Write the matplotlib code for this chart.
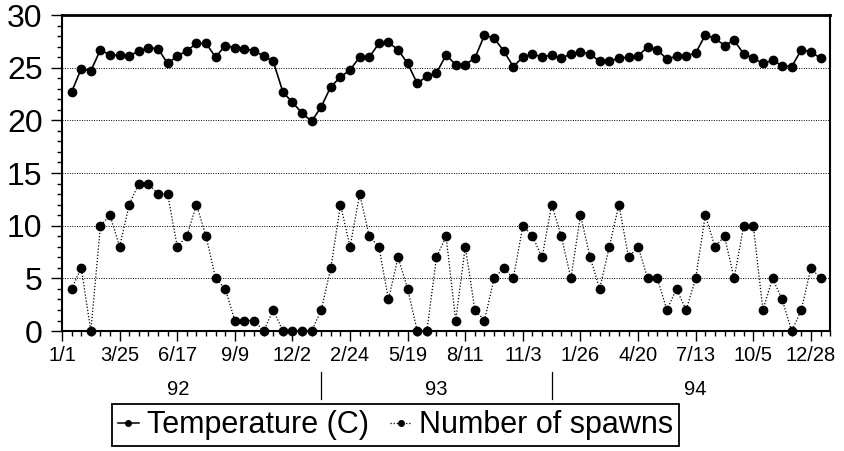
import matplotlib
matplotlib.use("Agg")
import matplotlib.pyplot as plt
from matplotlib.lines import Line2D
import matplotlib.transforms as mtransforms
import numpy as np

plt.rcParams['font.family'] = ['Liberation Sans', 'DejaVu Sans']

# biweekly samples, 1 Jan 1992 -> end of 1994
date_labels = ['1/1', '3/25', '6/17', '9/9', '12/2', '2/24', '5/19',
               '8/11', '11/3', '1/26', '4/20', '7/13', '10/5', '12/28']
year_labels = ['92', '93', '94']

temperature = [22.7, 24.9, 24.7, 26.7, 26.2, 26.2, 26.1, 26.6, 26.9, 26.8,
               25.4, 26.1, 26.6, 27.3, 27.3, 26.0, 27.1, 26.9, 26.8, 26.6,
               26.1, 25.6, 22.7, 21.7, 20.7, 19.9, 21.3, 23.2, 24.1, 24.8,
               26.0, 26.0, 27.3, 27.4, 26.7, 25.4, 23.5, 24.2, 24.5, 26.2,
               25.3, 25.3, 25.9, 28.1, 27.8, 26.6, 25.1, 26.0, 26.3, 26.0,
               26.2, 25.9, 26.3, 26.5, 26.3, 25.6, 25.6, 25.9, 26.0, 26.1,
               27.0, 26.7, 25.8, 26.1, 26.1, 26.4, 28.1, 27.8, 27.1, 27.6,
               26.3, 25.9, 25.4, 25.7, 25.2, 25.1, 26.7, 26.5, 25.9]

spawns = [4, 6, 0, 10, 11, 8, 12, 14, 14, 13,
          13, 8, 9, 12, 9, 5, 4, 1, 1, 1,
          0, 2, 0, 0, 0, 0, 2, 6, 12, 8,
          13, 9, 8, 3, 7, 4, 0, 0, 7, 9,
          1, 8, 2, 1, 5, 6, 5, 10, 9, 7,
          12, 9, 5, 11, 7, 4, 8, 12, 7, 8,
          5, 5, 2, 4, 2, 5, 11, 8, 9, 5,
          10, 10, 2, 5, 3, 0, 2, 6, 5]

x = np.arange(1, len(temperature) + 1)

fig = plt.figure(figsize=(8.45, 4.51), dpi=100)
ax = fig.add_axes([0.0734, 0.266, 0.909, 0.7007])

# dotted horizontal grid
for yv in range(5, 30, 5):
    ax.axhline(yv, color='black', lw=0.7, ls=(0, (1, 1.5)), zorder=1)

ax.plot(x, temperature, color='black', lw=1.2, marker='o', ms=6,
        zorder=3, clip_on=False)
ax.plot(x, spawns, color='black', lw=0.9, ls=(0, (1, 1.5)), marker='o',
        ms=6, zorder=3, clip_on=False)

ax.set_xlim(0, 80)
ax.set_ylim(0, 30)

ax.set_yticks(range(0, 31, 5))
ax.set_yticks(range(0, 31), minor=True)
ax.set_xticks(np.arange(0, 79, 6))
ax.set_xticklabels(date_labels)
ax.set_xticks(np.arange(0, 81), minor=True)

ax.tick_params(axis='y', which='major', labelsize=23, length=8, width=1,
               direction='out', pad=6)
ax.tick_params(axis='y', which='minor', length=3.5, width=1, direction='out')
ax.tick_params(axis='x', which='major', labelsize=14.5, length=7, width=1,
               direction='out', pad=4)
ax.tick_params(axis='x', which='minor', length=3.5, width=1, direction='out')

for side in ['left', 'right', 'bottom']:
    ax.spines[side].set_linewidth(1.5)
ax.spines['top'].set_linewidth(2)

# year groups under the date labels
trans = mtransforms.blended_transform_factory(ax.transData, ax.transAxes)
for xb in [27, 51]:
    ax.plot([xb, xb], [-0.13, -0.215], color='black', lw=0.9,
            transform=trans, clip_on=False)
for xc, yl in zip([12.1, 39, 66], year_labels):
    ax.text(xc, -0.186, yl, transform=trans, ha='center', va='center',
            fontsize=14.5)

handles = [
    Line2D([], [], color='black', lw=1.1, marker='o', ms=4),
    Line2D([], [], color='black', lw=0.9, ls=(0, (1, 1.5)), marker='o', ms=4),
]
leg = fig.legend(handles, ['Temperature (C)', 'Number of spawns'],
                 loc='center', bbox_to_anchor=(0.468, 0.057), ncol=2,
                 fontsize=22, frameon=True, fancybox=False, framealpha=1,
                 edgecolor='black', handlelength=0.7, handletextpad=0.25,
                 columnspacing=0.7, borderpad=0.2, borderaxespad=0)
leg.get_frame().set_linewidth(1.3)

fig.savefig('out.png', dpi=100)
